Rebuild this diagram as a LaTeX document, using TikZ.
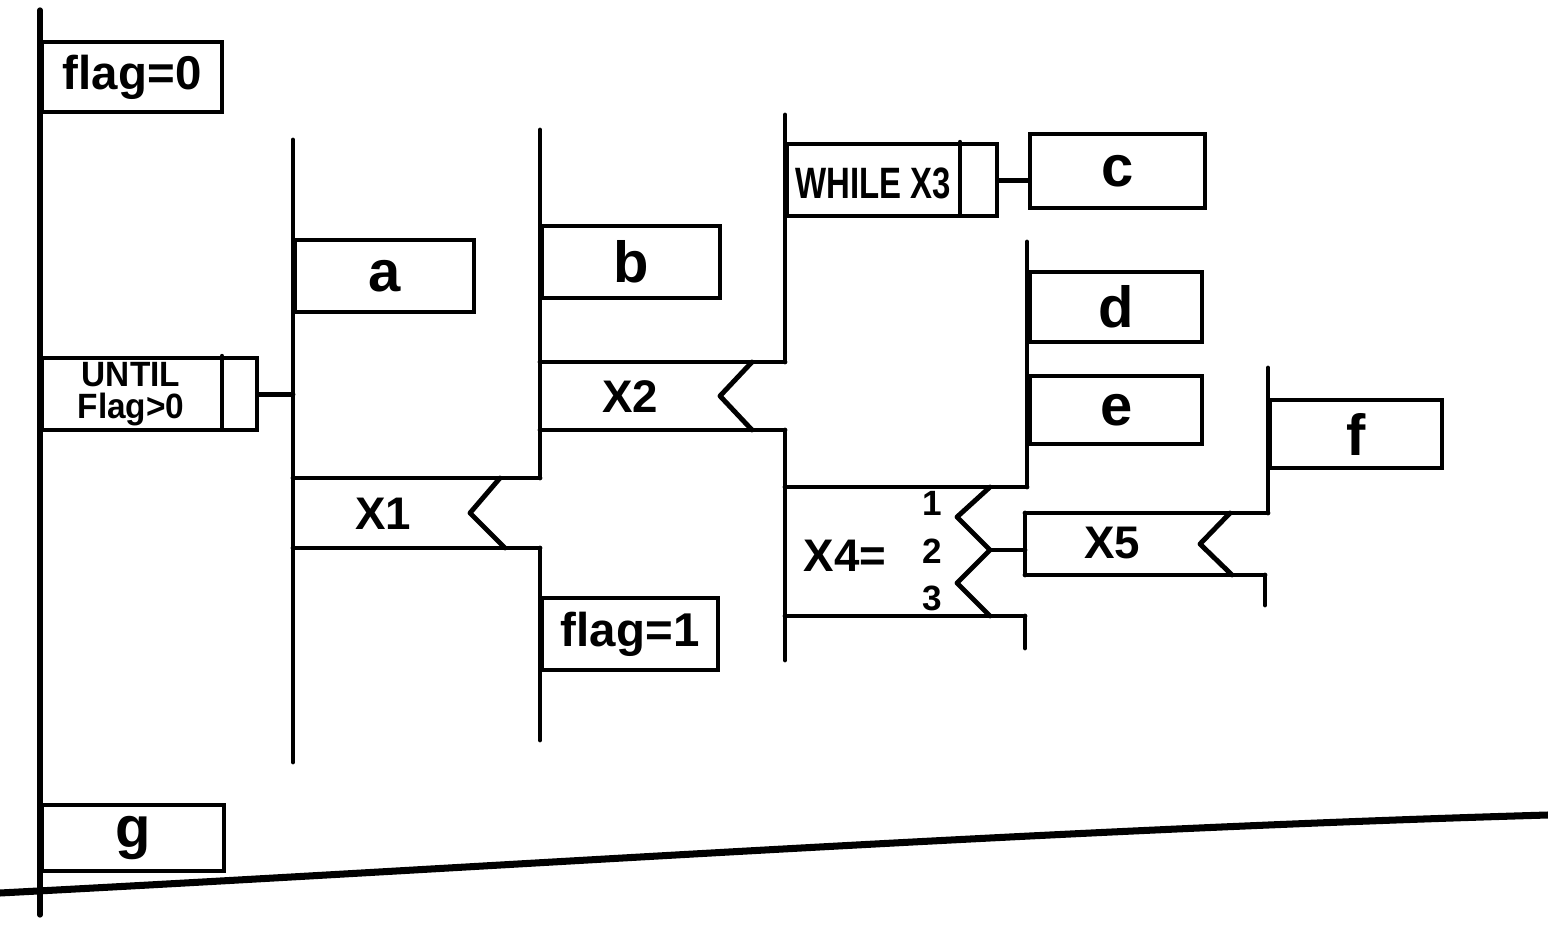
\documentclass[tikz,border=0pt]{standalone}
\usepackage{fontspec}
\setmainfont{Liberation Sans}
\newfontfamily\condf[FakeStretch=0.75]{Liberation Sans}
\newfontfamily\untilf[FakeStretch=0.95]{Liberation Sans}
\begin{document}
\begin{tikzpicture}[x=0.02cm,y=-0.02cm,
  ln/.style={line width=2.8pt, line cap=round, line join=round},
  pbox/.style={draw, line width=2.5pt, anchor=north west, inner sep=0pt,
    font=\bfseries\fontsize{33}{33}\selectfont},
  midfont/.style={font=\bfseries\fontsize{27}{27}\selectfont},
  xfont/.style={inner sep=0pt, font=\bfseries\fontsize{26}{26}\selectfont},
  numfont/.style={inner sep=0pt, font=\bfseries\fontsize{20}{20}\selectfont},
  condtext/.style={inner sep=0pt, align=center, font=\untilf\bfseries\fontsize{20}{18}\selectfont}]
\useasboundingbox (0,0) rectangle (1548,928);

% main spine
\coordinate (m0) at (40,10);
\coordinate (m1) at (40,915);
\draw[ln, line width=3pt] (m0) -- (m1);

% bottom edge line
\coordinate (b0) at (0,893);
\coordinate (b1) at (1548,815);
\draw[line width=4pt] (b0) .. controls (516,866) and (1032,830) .. (b1);

% level 0 boxes
\node[pbox, midfont, minimum width=3.6cm, minimum height=1.4cm] (flag0) at (40,40) {flag=0};
\node[pbox, minimum width=4.3cm, minimum height=1.44cm] (until) at (40,356) {};
\draw[ln, line width=2.5pt] (222,356) -- (222,428);
\node[condtext] (tuntil) at (131,394) {UNTIL\\Flag>0};
\node[pbox, minimum width=3.64cm, minimum height=1.32cm] (g) at (40,803) {g};

% level 1 spine
\coordinate (l1t) at (293,140);
\coordinate (l1b) at (293,762);
\draw[ln] (l1t) -- (l1b);
\draw[ln] (until.east) -- (until.east -| l1t);
\node[pbox, minimum width=3.58cm, minimum height=1.44cm] (a) at (293,238) {a};

% X1 selection
\coordinate (x1tl) at (293,478);
\coordinate (x1tr) at (540,478);
\coordinate (x1bl) at (293,548);
\coordinate (x1br) at (540,548);
\draw[ln] (x1tl) -- (x1tr);
\draw[ln] (x1bl) -- (x1br);
\draw[ln] (500,478) -- (470,513) -- (505,548);
\node[xfont] (tx1) at (383,514) {X1};

% level 2 spines
\coordinate (l2t) at (540,130);
\draw[ln] (l2t) -- (x1tr);
\coordinate (l2b) at (540,740);
\draw[ln] (x1br) -- (l2b);
\node[pbox, minimum width=3.56cm, minimum height=1.44cm] (b) at (540,224) {b};
\node[pbox, midfont, minimum width=3.52cm, minimum height=1.44cm] (flag1) at (540,596) {flag=1};

% X2 selection
\coordinate (x2tl) at (540,362);
\coordinate (x2tr) at (785,362);
\coordinate (x2bl) at (540,430);
\coordinate (x2br) at (785,430);
\draw[ln] (x2tl) -- (x2tr);
\draw[ln] (x2bl) -- (x2br);
\draw[ln] (752,362) -- (720,396) -- (752,430);
\node[xfont] (tx2) at (630,397) {X2};

% level 3
\coordinate (l3t) at (785,115);
\draw[ln] (l3t) -- (x2tr);
\coordinate (l3b) at (785,660);
\draw[ln] (x2br) -- (l3b);

\node[pbox, minimum width=4.2cm, minimum height=1.44cm] (while) at (785,142) {};
\draw[ln, line width=2.5pt] (960,142) -- (960,214);
\node[inner sep=0pt, font=\condf\bfseries\fontsize{25}{25}\selectfont] (twhile) at (873,183) {WHILE X3};
\node[pbox, minimum width=3.5cm, minimum height=1.48cm] (c) at (1028,132) {c};
\draw[ln] (while.east) -- (while.east -| c.west);

% X4 case
\coordinate (x4tl) at (785,487);
\coordinate (x4tr) at (1027,487);
\coordinate (x4bl) at (785,616);
\coordinate (x4br) at (1025,616);
\draw[ln] (x4tl) -- (x4tr);
\draw[ln] (x4bl) -- (x4br);
\coordinate (x4m) at (990,550);
\draw[ln] (990,487) -- (957,517) -- (x4m) -- (957,583) -- (990,616);
\node[xfont] (tx4) at (845,556) {X4=};
\node[numfont] (n1) at (932,503) {1};
\node[numfont] (n2) at (932,551) {2};
\node[numfont] (n3) at (932,598) {3};

% branch 1 of X4
\coordinate (l4t) at (1027,242);
\draw[ln] (l4t) -- (x4tr);
\node[pbox, minimum width=3.44cm, minimum height=1.4cm] (d) at (1028,270) {d};
\node[pbox, minimum width=3.44cm, minimum height=1.36cm] (e) at (1028,374) {e};

% branch 3 of X4
\coordinate (l4b) at (1025,648);
\draw[ln] (x4br) -- (l4b);

% X5 selection (branch 2)
\coordinate (x5tl) at (1025,513);
\coordinate (x5tr) at (1268,513);
\coordinate (x5bl) at (1025,575);
\coordinate (x5br) at (1265,575);
\draw[ln] (x4m) -- (x4m -| x5tl);
\draw[ln] (x5tl) -- (x5tr);
\draw[ln] (x5bl) -- (x5br);
\draw[ln] (x5tl) -- (x5bl);
\draw[ln] (1230,513) -- (1200,544) -- (1232,575);
\node[xfont] (tx5) at (1112,543) {X5};

\coordinate (l5t) at (1268,368);
\draw[ln] (l5t) -- (x5tr);
\coordinate (l5b) at (1265,605);
\draw[ln] (x5br) -- (l5b);
\node[pbox, minimum width=3.44cm, minimum height=1.36cm] (f) at (1268,398) {f};
\end{tikzpicture}
\end{document}
